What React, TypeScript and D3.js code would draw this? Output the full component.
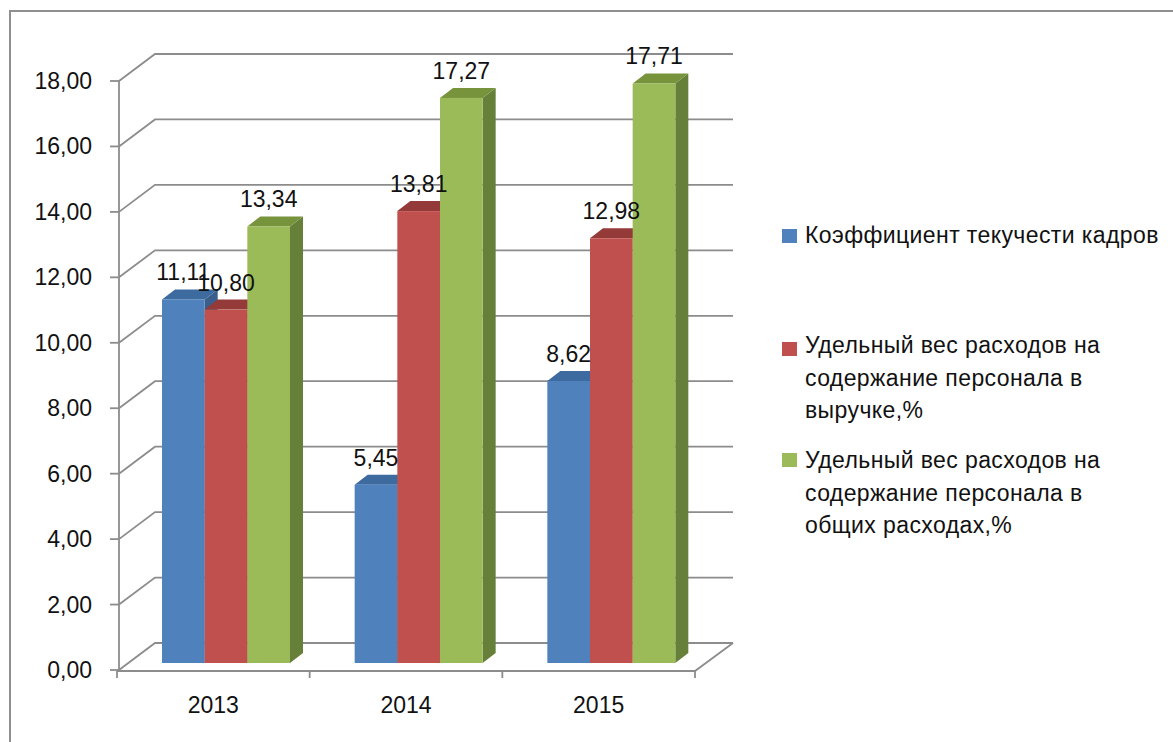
import React, { useEffect, useRef } from "react";
import * as d3 from "d3";

// Chart data
const years = ["2013", "2014", "2015"];
const turnover = [11.11, 5.45, 8.62];
const staffCostRevenue = [10.8, 13.81, 12.98];
const staffCostTotal = [13.34, 17.27, 17.71];
const yTicks = [0, 2, 4, 6, 8, 10, 12, 14, 16, 18];

const seriesNames = [
  ["Коэффициент текучести кадров"],
  ["Удельный вес расходов на", "содержание персонала в", "выручке,%"],
  ["Удельный вес расходов на", "содержание персонала в", "общих расходах,%"],
];
const seriesValues = [turnover, staffCostRevenue, staffCostTotal];

const front = ["#4f81bd", "#c0504d", "#9bbb59"];
const top = ["#3d6a9f", "#943a38", "#77933c"];
const side = ["#3a5f8d", "#8c3836", "#66803a"];

const App = () => {
  const ref = useRef<SVGSVGElement>(null);

  useEffect(() => {
    const svg = d3.select(ref.current);
    svg.selectAll("*").remove();

    const font = "'Liberation Sans', Arial, sans-serif";
    const grid = "#8c8c8c";

    // wall offset (3D depth of the chart box) and bar depth
    const wallDx = 36,
      wallDy = -27;
    const barDx = 13,
      barDy = -10;

    // Scales
    const y = d3.scaleLinear().domain([0, 18]).range([670, 81]);
    const yBar = d3.scaleLinear().domain([0, 18]).range([663, 74]);
    const x = d3.scaleBand().domain(years).range([117, 695]).padding(0);
    const inner = d3
      .scaleBand()
      .domain(["0", "1", "2"])
      .range([45, 173])
      .padding(0);

    // Outer frame
    svg
      .append("rect")
      .attr("x", 10)
      .attr("y", 11)
      .attr("width", 1200)
      .attr("height", 800)
      .attr("fill", "#fff")
      .attr("stroke", "#8f8f8f")
      .attr("stroke-width", 2);

    const x0 = 119,
      xBack = x0 + wallDx,
      xRight = 733;

    // Back wall gridlines with left diagonal
    yTicks.forEach((t) => {
      const yy = y(t);
      svg
        .append("path")
        .attr(
          "d",
          `M${x0},${yy}L${xBack},${yy + wallDy}L${xRight},${yy + wallDy}`
        )
        .attr("fill", "none")
        .attr("stroke", grid)
        .attr("stroke-width", 1.8);
    });

    // Floor front edge + right diagonal
    svg
      .append("path")
      .attr(
        "d",
        `M${117},${y(0) + 1}L${695},${y(0) + 1}L${xRight},${y(0) + wallDy}`
      )
      .attr("fill", "none")
      .attr("stroke", grid)
      .attr("stroke-width", 1.8);

    // Y axis line and ticks
    svg
      .append("line")
      .attr("x1", x0)
      .attr("x2", x0)
      .attr("y1", y(18))
      .attr("y2", y(0))
      .attr("stroke", grid)
      .attr("stroke-width", 1.8);

    yTicks.forEach((t) => {
      svg
        .append("line")
        .attr("x1", 110)
        .attr("x2", x0)
        .attr("y1", y(t))
        .attr("y2", y(t))
        .attr("stroke", grid)
        .attr("stroke-width", 1.8);
      svg
        .append("text")
        .attr("x", 92)
        .attr("y", y(t))
        .attr("dy", "0.35em")
        .attr("text-anchor", "end")
        .attr("font-family", font)
        .attr("font-size", 23)
        .attr("fill", "#111")
        .text(t.toFixed(2).replace(".", ","));
    });

    // X axis ticks
    [...years.map((d) => x(d)!), 695].forEach((xx) => {
      svg
        .append("line")
        .attr("x1", xx)
        .attr("x2", xx)
        .attr("y1", y(0) + 1)
        .attr("y2", y(0) + 8)
        .attr("stroke", grid)
        .attr("stroke-width", 1.8);
    });

    years.forEach((yr) => {
      svg
        .append("text")
        .attr("x", x(yr)! + x.bandwidth() / 2)
        .attr("y", 713)
        .attr("text-anchor", "middle")
        .attr("font-family", font)
        .attr("font-size", 23)
        .attr("fill", "#111")
        .text(yr);
    });

    // 3D bars
    const bw = inner.bandwidth();
    years.forEach((yr, i) => {
      seriesValues.forEach((vals, s) => {
        const bx = x(yr)! + inner(String(s))!;
        const yt = yBar(vals[i]);
        const yb = yBar(0);
        const g = svg.append("g");
        g.append("path")
          .attr(
            "d",
            `M${bx + bw},${yt}L${bx + bw + barDx},${yt + barDy}L${bx + bw + barDx},${yb + barDy}L${bx + bw},${yb}Z`
          )
          .attr("fill", side[s]);
        g.append("path")
          .attr(
            "d",
            `M${bx},${yt}L${bx + bw},${yt}L${bx + bw + barDx},${yt + barDy}L${bx + barDx},${yt + barDy}Z`
          )
          .attr("fill", top[s]);
        g.append("rect")
          .attr("x", bx)
          .attr("y", yt)
          .attr("width", bw)
          .attr("height", yb - yt)
          .attr("fill", front[s]);
      });
    });

    // Value labels (11,11 and 10,80 overlap in the original too)
    years.forEach((yr, i) => {
      seriesValues.forEach((vals, s) => {
        const bx = x(yr)! + inner(String(s))!;
        svg
          .append("text")
          .attr("x", bx + bw / 2)
          .attr("y", yBar(vals[i]) - 19)
          .attr("text-anchor", "middle")
          .attr("font-family", font)
          .attr("font-size", 23)
          .attr("fill", "#111")
          .text(vals[i].toFixed(2).replace(".", ","));
      });
    });

    // Legend
    const legendTops = [229, 342, 453];
    const legendBase = [243, 353, 468];
    seriesNames.forEach((lines, s) => {
      svg
        .append("rect")
        .attr("x", 782)
        .attr("y", legendTops[s])
        .attr("width", 15)
        .attr("height", 14)
        .attr("fill", front[s]);
      lines.forEach((ln, k) => {
        svg
          .append("text")
          .attr("x", 805)
          .attr("y", legendBase[s] + k * 32.5)
          .attr("font-family", font)
          .attr("font-size", 23)
          .attr("letter-spacing", 0.4)
          .attr("fill", "#111")
          .text(ln);
      });
    });
  }, []);

  return (
    <svg
      ref={ref}
      width={1173}
      height={742}
      style={{ position: "absolute", left: 0, top: 0, background: "#fff" }}
    ></svg>
  );
};

export default App;
